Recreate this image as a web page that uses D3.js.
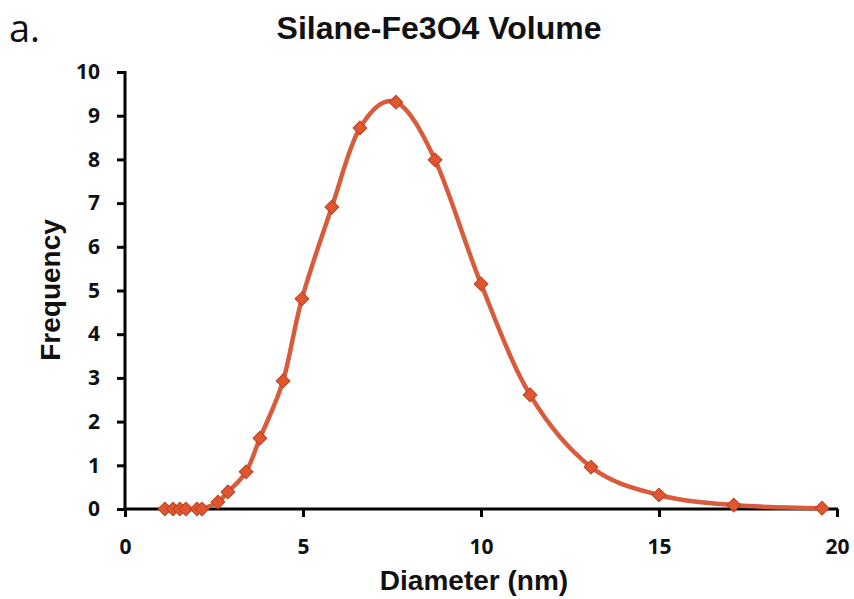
<!DOCTYPE html>
<html>
<head>
<meta charset="utf-8">
<script src="https://cdn.jsdelivr.net/npm/d3@7"></script>
<style>
html,body{margin:0;padding:0;background:#fff;}
svg{display:block;}
</style>
</head>
<body>
<svg id="chart" width="854" height="599"></svg>
<script>
const diameters = [1.12, 1.35, 1.54, 1.71, 2.02, 2.16, 2.61, 2.89, 3.40, 3.79, 4.44, 4.97, 5.81, 6.60, 7.61, 8.71, 10.0, 11.38, 13.09, 15.0, 17.1, 19.58];
const frequencies = [0, 0, 0, 0, 0, 0, 0.16, 0.39, 0.85, 1.62, 2.93, 4.81, 6.91, 8.72, 9.31, 7.99, 5.15, 2.61, 0.96, 0.32, 0.09, 0.02];
const xTicks = [0, 5, 10, 15, 20];
const yTicks = [0, 1, 2, 3, 4, 5, 6, 7, 8, 9, 10];
const title = "Silane-Fe3O4 Volume";
const xLabel = "Diameter (nm)";
const yLabel = "Frequency";

(function () {
const svg = d3.select("#chart");
const mL = 125, mR = 837, mT = 72, mB = 509;
const x = d3.scaleLinear().domain([0, 20]).range([mL, mR]);
const y = d3.scaleLinear().domain([0, 10]).range([mB, mT]);
const data = diameters.map((d, i) => ({x: d, y: frequencies[i]}));
const tickFont = "'Open Sans','Noto Sans',sans-serif";
const labelFont = "'Liberation Sans',Arial,sans-serif";

// panel letters
svg.append("text").attr("x", 9).attr("y", 42)
  .attr("font-family", "'Open Sans','Noto Sans',sans-serif")
  .attr("font-size", 38).attr("fill", "#111").text("a.");
svg.append("text").attr("x", 9).attr("y", 620)
  .attr("font-family", "'Open Sans','Noto Sans',sans-serif")
  .attr("font-size", 38).attr("fill", "#111").text("c");

// title
svg.append("text").attr("x", 439).attr("y", 39).attr("text-anchor", "middle")
  .attr("font-family", labelFont).attr("font-weight", "bold")
  .attr("font-size", 32).attr("fill", "#111").text(title);

// axes
const xAxis = d3.axisBottom(x).tickValues(xTicks).tickSize(8).tickPadding(22).tickFormat(d3.format("d"));
const gx = svg.append("g").attr("transform", `translate(0,${mB})`).call(xAxis);
gx.select(".domain").attr("stroke", "#000").attr("stroke-width", 3).attr("d", `M${mL-1.5},0H${mR+1}`);
gx.selectAll(".tick line").attr("stroke", "#000").attr("stroke-width", 3);
gx.selectAll(".tick text").attr("font-family", tickFont).attr("font-weight", "bold")
  .attr("font-size", 21).attr("fill", "#111");

const yAxis = d3.axisLeft(y).tickValues(yTicks).tickSize(8).tickPadding(17).tickFormat(d3.format("d"));
const gy = svg.append("g").attr("transform", `translate(${mL},0)`).call(yAxis);
gy.select(".domain").attr("stroke", "#000").attr("stroke-width", 3).attr("d", `M0,${mT-1}V${mB+1.5}`);
gy.selectAll(".tick line").attr("stroke", "#000").attr("stroke-width", 3);
gy.selectAll(".tick text").attr("font-family", tickFont).attr("font-weight", "bold")
  .attr("font-size", 21).attr("fill", "#111");

// axis labels
svg.append("text").attr("x", 474).attr("y", 590).attr("text-anchor", "middle")
  .attr("font-family", labelFont).attr("font-weight", "bold")
  .attr("font-size", 28).attr("fill", "#111").text(xLabel);
svg.append("text").attr("transform", "translate(60,290) rotate(-90)").attr("text-anchor", "middle")
  .attr("font-family", labelFont).attr("font-weight", "bold")
  .attr("font-size", 28).attr("fill", "#111").text(yLabel);

// line
const line = d3.line().x(d => x(d.x)).y(d => y(d.y)).curve(d3.curveCatmullRom.alpha(0));
svg.append("path").datum(data).attr("d", line).attr("fill", "none")
  .attr("stroke", "#d85c3b").attr("stroke-width", 4.5).attr("stroke-linejoin", "round");

// markers
svg.append("g").selectAll("path").data(data).join("path")
  .attr("d", d3.symbol().type(d3.symbolSquare).size(95))
  .attr("transform", d => `translate(${x(d.x)},${y(d.y)}) rotate(45)`)
  .attr("fill", "#e2552f").attr("stroke", "#b3442a").attr("stroke-width", 1);
})();
</script>
</body>
</html>
